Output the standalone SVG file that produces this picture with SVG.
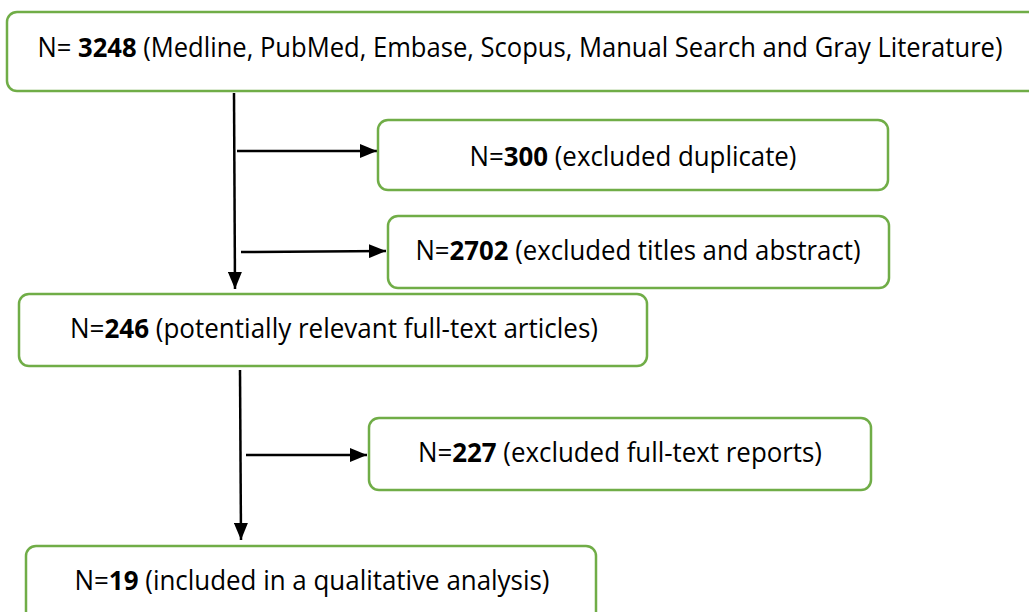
<svg xmlns="http://www.w3.org/2000/svg" width="1029" height="612" viewBox="0 0 1029 612">
<style>
.box{fill:#fff;stroke:#70AD47;stroke-width:2.5}
.t{font-family:"Open Sans","Noto Sans",sans-serif;font-size:27px;fill:#000;text-anchor:middle;dominant-baseline:central}
.b{font-weight:bold}
.c{stroke:#000;stroke-width:2.5;fill:none}
</style>
<defs>
<marker id="ah" viewBox="0 0 17 14" refX="17" refY="7" markerWidth="17" markerHeight="14" markerUnits="userSpaceOnUse" orient="auto">
<path d="M0,0 L17,7 L0,14 z" fill="#000"/>
</marker>
</defs>
<rect width="1029" height="612" fill="#fff"/>
<g id="connectors">
<line class="c" x1="234" y1="93" x2="235" y2="289" marker-end="url(#ah)"/>
<line class="c" x1="237" y1="151" x2="377" y2="151" marker-end="url(#ah)"/>
<line class="c" x1="241" y1="252" x2="386" y2="251" marker-end="url(#ah)"/>
<line class="c" x1="240" y1="370" x2="241" y2="540" marker-end="url(#ah)"/>
<line class="c" x1="246" y1="455" x2="367" y2="455" marker-end="url(#ah)"/>
</g>
<g id="n1">
<rect class="box" x="7" y="12" width="1040" height="79" rx="10"/>
<text class="t" x="520" y="46" textLength="965" lengthAdjust="spacingAndGlyphs">N= <tspan class="b">3248</tspan> (Medline, PubMed, Embase, Scopus, Manual Search and Gray Literature)</text>
</g>
<g id="n2">
<rect class="box" x="378" y="120" width="510" height="70" rx="10"/>
<text class="t" x="633" y="155" textLength="327" lengthAdjust="spacingAndGlyphs">N=<tspan class="b">300</tspan> (excluded duplicate)</text>
</g>
<g id="n3">
<rect class="box" x="388" y="216" width="501" height="72" rx="10"/>
<text class="t" x="638" y="249" textLength="445" lengthAdjust="spacingAndGlyphs">N=<tspan class="b">2702</tspan> (excluded titles and abstract)</text>
</g>
<g id="n4">
<rect class="box" x="19" y="294" width="628" height="72" rx="10"/>
<text class="t" x="334" y="327" textLength="528" lengthAdjust="spacingAndGlyphs">N=<tspan class="b">246</tspan> (potentially relevant full-text articles)</text>
</g>
<g id="n5">
<rect class="box" x="369" y="418" width="502" height="72" rx="10"/>
<text class="t" x="620" y="451" textLength="404" lengthAdjust="spacingAndGlyphs">N=<tspan class="b">227</tspan> (excluded full-text reports)</text>
</g>
<g id="n6">
<rect class="box" x="26" y="546" width="570" height="80" rx="10"/>
<text class="t" x="312" y="579" textLength="475" lengthAdjust="spacingAndGlyphs">N=<tspan class="b">19</tspan> (included in a qualitative analysis)</text>
</g>
</svg>
